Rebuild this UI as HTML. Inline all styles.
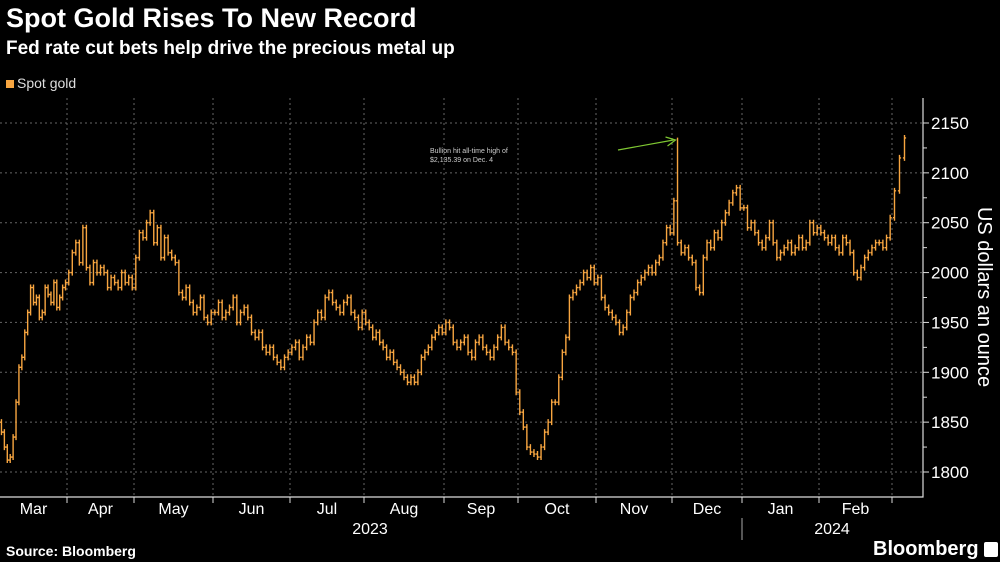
<!DOCTYPE html>
<html><head><meta charset="utf-8"><style>
html,body{margin:0;padding:0;background:#000;width:1000px;height:562px;overflow:hidden;font-family:"Liberation Sans",sans-serif;color:#fff}
.t{position:absolute;white-space:nowrap}
</style></head><body>
<div class="t" style="left:6px;top:3px;font-size:27px;font-weight:bold">Spot Gold Rises To New Record</div>
<div class="t" style="left:6px;top:38px;font-size:19px;font-weight:bold">Fed rate cut bets help drive the precious metal up</div>
<div class="t" style="left:6px;top:75px;font-size:14px;color:#ddd"><span style="display:inline-block;width:8px;height:8px;background:#f7a540;margin-right:3px"></span>Spot gold</div>
<div class="t" style="left:6px;top:543px;font-size:14px;font-weight:bold">Source: Bloomberg</div>
<div class="t" style="left:873px;top:538px;font-size:20px;font-weight:bold">Bloomberg <span style="display:inline-block;width:14px;height:15px;background:#fff;border-radius:2px;vertical-align:-2px"></span></div>
<svg id="chart" width="1000" height="562" style="position:absolute;left:0;top:0">
</svg>
<script>
const months = ["Mar","Apr","May","Jun","Jul","Aug","Sep","Oct","Nov","Dec","Jan","Feb"];
const yTicks = [1800,1850,1900,1950,2000,2050,2100,2150];
const years = ["2023","2024"];
const closes = [
1840,1825,1812,1815,1835,1870,1905,1915,1940,1960,1985,1970,1975,1955,1960,1985,1978,1970,1990,1965,1975,1985,1990,
2000,2020,2030,2010,2045,2005,1990,2010,2000,2005,2000,1985,1995,1990,1985,2000,1990,1995,1985,
2015,2040,2035,2050,2060,2030,2045,2015,2035,2020,2015,2010,1980,1975,1985,1970,1960,1965,1975,1955,1950,1960,
1960,1970,1955,1960,1965,1975,1950,1960,1965,1955,1940,1935,1940,1925,1920,1925,1915,1910,1905,1915,1920,
1925,1930,1915,1925,1935,1930,1950,1960,1955,1975,1980,1970,1965,1960,1970,1975,1960,1955,1945,1960,
1950,1945,1935,1940,1930,1925,1915,1920,1910,1905,1900,1895,1890,1895,1890,1900,1915,1920,1925,1935,1940,1945,1940,
1950,1945,1930,1925,1930,1935,1920,1915,1930,1935,1925,1920,1915,1925,1935,1945,1930,1925,1920,1880,
1860,1845,1825,1820,1818,1815,1825,1840,1850,1870,1870,1895,1920,1935,1975,1980,1985,1990,2000,1995,2005,1990,
1995,1975,1965,1960,1955,1950,1940,1945,1960,1975,1980,1990,1995,2000,2005,2000,2010,2015,2030,2045,2040,
2072,2030,2020,2025,2015,2010,1985,1980,2015,2030,2025,2040,2035,2050,2060,2070,2080,2085,2065,
2065,2045,2050,2040,2030,2025,2035,2050,2030,2015,2020,2025,2030,2020,2025,2035,2025,2030,2050,2040,2045,
2040,2035,2030,2035,2025,2020,2035,2030,2020,2000,1995,2005,2015,2020,2025,2030,2030,2025,2035,2055,
2082,2115,2135];
const monthBars = [23,19,22,21,20,23,20,22,21,19,21,20,3];
const peakIndex = 192; const peakHigh = 2135.39;
const svg = document.getElementById('chart');
const NS = 'http://www.w3.org/2000/svg';
const bounds = [0,67,134,213,290,364,444,518,596,672,742,819,892,907];
const y = v => 472 - (v - 1800) * 349 / 350;
const barMonth=[], barPos=[];
monthBars.forEach((n,k)=>{for(let j=0;j<n;j++){barMonth.push(k);barPos.push(j);}});
const x = i => { const k=barMonth[i], n=monthBars[k]; return bounds[k] + (barPos[i]+0.5)*(bounds[k+1]-bounds[k])/n; };
function add(tag, attrs){const e=document.createElementNS(NS,tag);for(const k in attrs)e.setAttribute(k,attrs[k]);svg.appendChild(e);return e;}
yTicks.forEach(v=>{
  const g=add('line',{x1:0,x2:923,y1:y(v),y2:y(v),stroke:'#666','stroke-dasharray':'2,3','stroke-width':1});
  
  
  const tk=add('line',{x1:923,x2:929,y1:y(v),y2:y(v),stroke:'#ddd'});
  
  
  const t=add('text',{x:931,y:y(v)+6,fill:'#fff','font-size':17,'font-family':'Liberation Sans, sans-serif'});
  t.textContent=v;
  
  
});
for(let v=1825;v<2150;v+=50){const m=add('line',{x1:923,x2:927,y1:y(v),y2:y(v),stroke:'#ddd'});
  
  }
for(let k=1;k<=12;k++){
  const bx=bounds[k];
  const g=add('line',{x1:bx,x2:bx,y1:98,y2:497,stroke:'#666','stroke-dasharray':'2,3'});
  
  
  const tk=add('line',{x1:bx,x2:bx,y1:497,y2:503,stroke:'#ddd'});
  
  
}
months.forEach((m,k)=>{
  const mid=(bounds[k]+bounds[k+1])/2;
  const t=add('text',{x:mid,y:514,fill:'#fff','font-size':16,'text-anchor':'middle','font-family':'Liberation Sans, sans-serif'});
  t.textContent=m;
  
  
});
[[370,years[0]],[832,years[1]]].forEach(([px,txt])=>{
  const t=add('text',{x:px,y:534,fill:'#fff','font-size':16,'text-anchor':'middle','font-family':'Liberation Sans, sans-serif'});
  t.textContent=txt;
  
  
});
const sep=add('line',{x1:742,x2:742,y1:518,y2:540,stroke:'#aaa'});


const ax=add('path',{d:'M923 98 V497 H0',stroke:'#ddd',fill:'none','stroke-width':1.2});


closes.forEach((c,i)=>{
  const o=i===0?1850:closes[i-1];
  let hi=Math.max(o,c)+3, lo=Math.min(o,c)-3;
  if(i===peakIndex)hi=peakHigh;
  const bx=x(i);
  const p=add('path',{d:`M${bx} ${y(hi)}V${y(lo)}M${bx-1.6} ${y(o)}H${bx}M${bx} ${y(c)}H${bx+1.6}`,stroke:'#f7a540','stroke-width':1.4,fill:'none'});
  
  
});
const ax2=x(peakIndex);
const ar=add('path',{d:`M618 150 L${ax2-4} 140 M${ax2-12} 137 L${ax2-2} 140 L${ax2-10} 146`,stroke:'#7fc832','stroke-width':1.2,fill:'none'});


['Bullion hit all-time high of','$2,135.39 on Dec. 4'].forEach((s,k)=>{
  const t=add('text',{x:430,y:153+k*9,fill:'#ccc','font-size':7,'font-family':'Liberation Sans, sans-serif'});
  t.textContent=s;
  
  
});
const yt=add('text',{x:0,y:0,fill:'#fff','font-size':20,'text-anchor':'middle','font-family':'Liberation Sans, sans-serif',transform:'translate(978,297) rotate(90)'});
yt.textContent='US dollars an ounce';


</script>
</body></html>
